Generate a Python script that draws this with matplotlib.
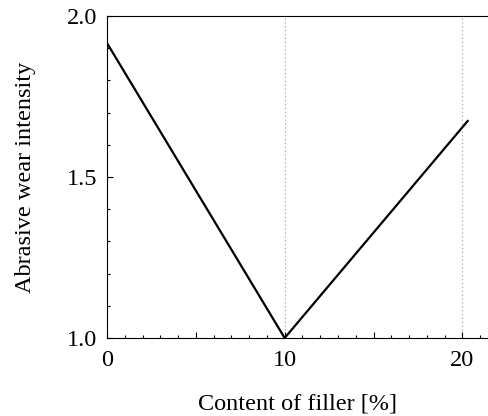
import matplotlib.pyplot as plt
from matplotlib.ticker import MultipleLocator, FixedLocator, FixedFormatter

# data
filler_content = [0, 10, 20.3]
wear_intensity = [1.916, 1.0, 1.674]

x_major = [0, 5, 10, 15, 20]
x_labels = ['0', '', '10', '', '20']

plt.rcParams['font.family'] = ['Liberation Serif', 'DejaVu Serif']
plt.rcParams['font.size'] = 17.5

fig = plt.figure(figsize=(4.89, 4.16), dpi=100)
ax = fig.add_axes([0.2188, 0.1875, 0.7812, 0.774])

ax.plot(filler_content, wear_intensity, color='black', lw=1.6, zorder=3)

ax.set_xlim(0, 21.5)
ax.set_ylim(1.0, 2.0)

for xv in [10, 20]:
    ax.axvline(xv, color='#999999', lw=0.8, ls=(0, (1, 2.5)), zorder=1)

ax.xaxis.set_major_locator(FixedLocator(x_major))
ax.xaxis.set_major_formatter(FixedFormatter(x_labels))
ax.xaxis.set_minor_locator(MultipleLocator(1))
ax.yaxis.set_major_locator(MultipleLocator(0.5))
ax.yaxis.set_minor_locator(MultipleLocator(0.1))
ax.yaxis.set_major_formatter(plt.FormatStrFormatter('%.1f'))

ax.tick_params(which='both', direction='in', top=False, right=False, width=0.8)
ax.tick_params(which='major', length=4)
ax.tick_params(axis='y', which='major', pad=7)
ax.tick_params(axis='x', which='major', pad=9)
ax.tick_params(which='minor', length=2.5)

ax.spines['right'].set_visible(False)

ax.set_xlabel('Content of filler [%]', labelpad=16)
ax.set_ylabel('Abrasive wear intensity', labelpad=22)

fig.savefig('out.png', dpi=100)
